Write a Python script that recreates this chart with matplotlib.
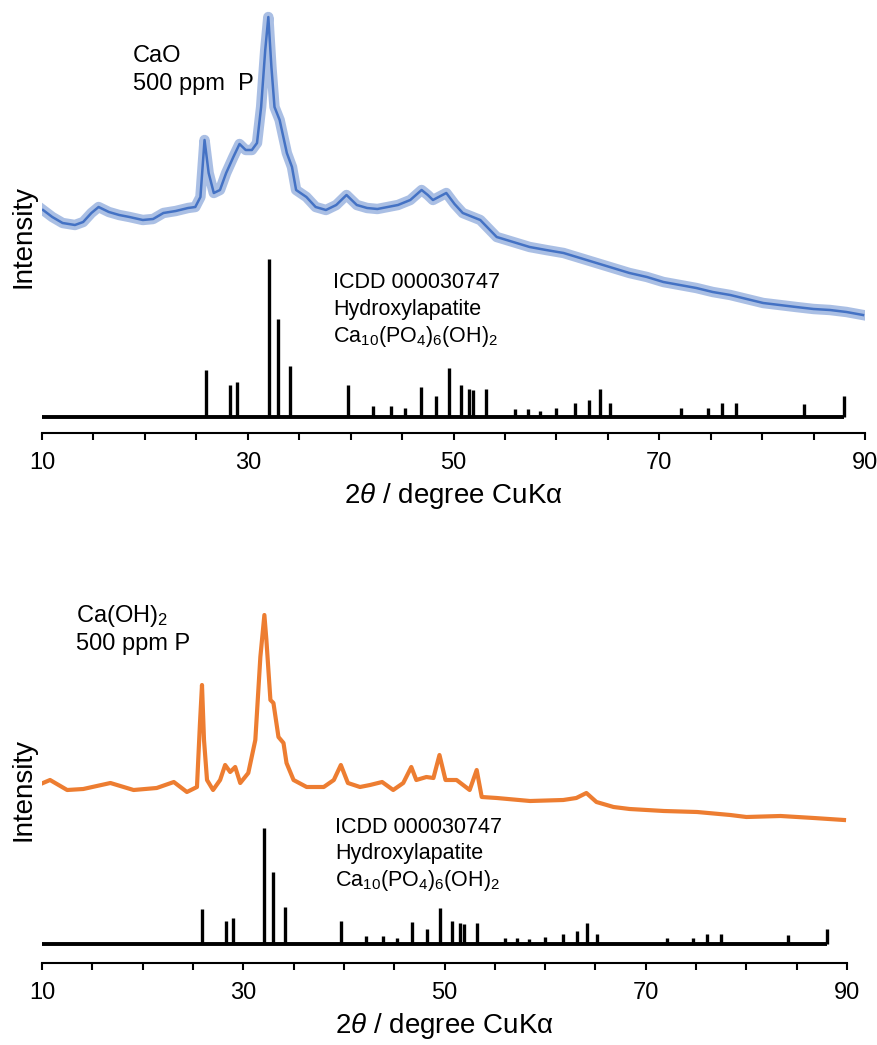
import matplotlib
matplotlib.use("Agg")
import matplotlib.pyplot as plt
from matplotlib.ticker import MultipleLocator

plt.rcParams["font.family"] = ["Liberation Sans", "DejaVu Sans"]
plt.rcParams["mathtext.fontset"] = "custom"
plt.rcParams["mathtext.rm"] = "Liberation Sans"
plt.rcParams["mathtext.it"] = "Liberation Sans:italic"
plt.rcParams["mathtext.default"] = "regular"

# CaO + 500 ppm P (arbitrary units)
cao_2theta = [10.1, 11.0, 12.0, 13.2, 14.0, 14.8, 15.5, 16.5, 17.5, 18.5, 19.8, 20.8,
              21.8, 23.0, 24.2, 24.9, 25.4, 25.8, 26.2, 26.7, 27.3, 27.9, 28.6, 29.2,
              29.8, 30.4, 30.9, 31.3, 31.7, 32.0, 32.3, 32.6, 33.1, 33.8, 34.3, 34.7,
              35.7, 36.6, 37.6, 38.6, 39.6, 40.6, 41.6, 42.6, 43.6, 44.6, 45.8, 46.9,
              47.5, 48.0, 49.3, 50.1, 50.9, 52.6, 54.2, 55.8, 57.4, 59.0, 60.7, 62.3,
              63.9, 65.5, 67.1, 68.8, 70.4, 72.0, 73.6, 75.2, 76.9, 78.5, 80.1, 81.7,
              83.3, 85.0, 86.6, 88.2, 89.8]
cao_intensity = [223, 216, 210, 208, 211, 220, 226, 221, 218, 216, 213, 214,
                 220, 222, 225, 226, 236, 293, 260, 240, 243, 260, 276, 289,
                 283, 283, 290, 326, 383, 416, 366, 326, 313, 280, 266, 243,
                 236, 226, 223, 228, 238, 228, 225, 224, 226, 228, 233, 243,
                 238, 233, 240, 229, 220, 213, 196, 191, 186, 183, 180, 175,
                 170, 165, 160, 156, 151, 148, 145, 141, 138, 134, 130, 128,
                 126, 124, 123, 121, 118]

# Ca(OH)2 + 500 ppm P
caoh_2theta = [10.1, 10.8, 12.5, 14.1, 16.8, 19.1, 21.4, 23.1, 24.4, 25.4, 25.7, 25.9,
               26.1, 26.4, 27.0, 27.7, 28.2, 28.7, 29.2, 29.7, 30.5, 31.2, 31.7, 32.1,
               32.3, 32.7, 33.0, 33.5, 34.0, 34.3, 35.0, 36.3, 38.0, 39.0, 39.7, 40.4,
               41.6, 42.6, 43.8, 44.9, 45.9, 46.7, 47.2, 48.2, 48.9, 49.5, 50.1, 51.2,
               52.5, 53.2, 53.7, 55.2, 58.5, 61.8, 63.1, 64.1, 65.1, 66.8, 68.4, 71.8,
               75.1, 78.4, 80.0, 83.4, 86.7, 89.7]
caoh_intensity = [180, 183, 173, 174, 180, 173, 175, 181, 171, 176, 240, 278,
                  223, 183, 173, 183, 198, 191, 196, 180, 190, 223, 306, 348,
                  323, 263, 260, 226, 220, 200, 183, 176, 176, 183, 198, 180,
                  176, 178, 181, 173, 180, 196, 183, 186, 185, 208, 183, 183,
                  173, 193, 166, 165, 162, 163, 165, 170, 161, 156, 154, 152,
                  151, 148, 146, 147, 145, 143]

# ICDD 000030747 hydroxylapatite reference lines (relative intensity, %)
hap_2theta = [25.9, 28.3, 29.0, 32.1, 32.95, 34.1, 39.7, 42.2, 43.9, 45.3, 46.8, 48.3,
              49.6, 50.7, 51.5, 51.9, 53.2, 56.0, 57.2, 58.4, 60.0, 61.8, 63.2, 64.2,
              65.2, 72.1, 74.7, 76.1, 77.5, 84.1, 88.0]
hap_rel = [30, 20, 22, 100, 62, 32, 20, 7, 7, 5.5, 19, 13,
           31, 20, 18, 17, 18, 5, 5, 4, 6, 9, 11, 18,
           9, 5.5, 5.5, 9, 9, 8, 13]

major_ticks = [10, 30, 50, 70, 90]

BLUE = "#4472C4"
ORANGE = "#ED7D31"
TXT = 15.5


def style_axis(ax, ymax):
    ax.set_xlim(10, 90)
    ax.set_ylim(0, ymax)
    for side in ["top", "right", "left"]:
        ax.spines[side].set_visible(False)
    ax.spines["bottom"].set_linewidth(1.5)
    ax.set_yticks([])
    ax.set_xticks(major_ticks)
    ax.xaxis.set_minor_locator(MultipleLocator(5))
    ax.tick_params(axis="x", which="both", direction="out", length=5, width=1.5,
                   labelsize=17, pad=9)
    ax.set_xlabel(r"2$\mathit{\theta}$ / degree CuKα", fontsize=20, labelpad=5)
    ax.set_ylabel("Intensity", fontsize=20)


def draw_sticks(ax, base, scale):
    tops = [base + r * scale for r in hap_rel]
    ax.vlines(hap_2theta, base, tops, color="black", lw=2.4)
    ax.hlines(base, 10, hap_2theta[-1], color="black", lw=2.8)


def draw_labels(ax, x0, y0, dy):
    lines = ["ICDD 000030747", "Hydroxylapatite",
             r"Ca$_{10}$(PO$_4$)$_6$(OH)$_2$"]
    for i, s in enumerate(lines):
        ax.text(x0, y0 - i * dy, s, fontsize=TXT, va="baseline", ha="left")


fig = plt.figure(figsize=(8.77, 10.45), dpi=100)

# top panel: CaO
ax1 = fig.add_axes([42 / 877, 612 / 1045, 823 / 877, 433 / 1045])
style_axis(ax1, 433)
ax1.plot(cao_2theta, cao_intensity, color=BLUE, lw=7.5, alpha=0.45, solid_joinstyle="round")
ax1.plot(cao_2theta, cao_intensity, color=BLUE, lw=1.8)
draw_sticks(ax1, 16, 1.58)
draw_labels(ax1, 38.3, 144.7, 27)
ax1.text(18.85, 371, "CaO", fontsize=TXT + 1.5, va="baseline")
ax1.text(18.85, 343, "500 ppm  P", fontsize=TXT + 1.5, va="baseline")
ax1.yaxis.set_label_coords(-0.007, 0.453)

# bottom panel: Ca(OH)2
ax2 = fig.add_axes([42 / 877, 82 / 1045, 805 / 877, 373 / 1045])
style_axis(ax2, 373)
ax2.plot(caoh_2theta, caoh_intensity, color=ORANGE, lw=3.0, solid_joinstyle="round")
draw_sticks(ax2, 19, 1.16)
draw_labels(ax2, 39.1, 130, 26.5)
ax2.text(13.4, 341, r"Ca(OH)$_2$", fontsize=TXT + 1.5, va="baseline")
ax2.text(13.4, 313, "500 ppm P", fontsize=TXT + 1.5, va="baseline")
ax2.yaxis.set_label_coords(-0.007, 0.464)

fig.savefig("out.png", dpi=100)
